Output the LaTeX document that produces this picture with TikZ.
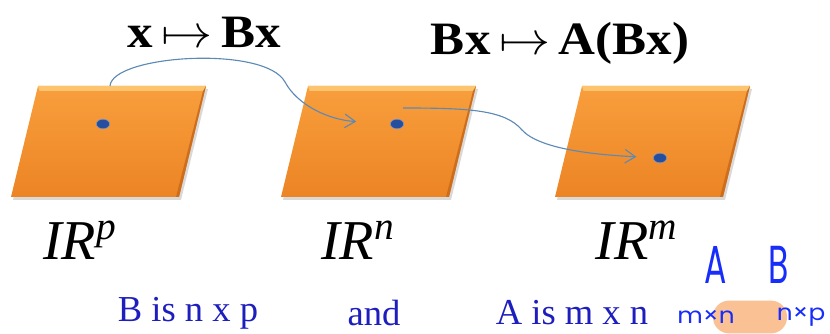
\RequirePackage{fix-cm}
\documentclass[tikz,border=0pt]{standalone}
\usepackage{fontspec}
\setmainfont{Liberation Serif}
\newfontfamily\handfont{Poppins}
\usetikzlibrary{calc,arrows.meta,positioning,shapes.geometric}
\definecolor{planeorange}{RGB}{248,152,52}
\definecolor{planelight}{RGB}{252,196,110}
\definecolor{planedark}{RGB}{236,132,36}
\definecolor{planeedge}{RGB}{205,110,30}
\definecolor{mapblue}{RGB}{92,138,180}
\definecolor{dotblue}{RGB}{38,78,158}
\definecolor{textblue}{RGB}{30,30,190}
\definecolor{inkblue}{RGB}{25,45,250}
\definecolor{inkorange}{RGB}{250,194,148}
\newcommand{\widen}[1]{\scalebox{1.1}[1]{#1}}
\newcommand{\slim}[1]{\scalebox{0.62}[1]{#1}}
\tikzset{
  plane/.style={top color=planeorange!85!planelight, bottom color=planedark},
  planebevel/.style={fill=planelight},
  planeside/.style={fill=planeedge},
  planeshadow/.style={fill=black, opacity=0.15},
  dot/.style={ellipse, fill=dotblue, draw=dotblue!60, line width=0.4pt,
              minimum width=0.33cm, minimum height=0.24cm, inner sep=0pt},
  map/.style={-{Straight Barb[length=2.6mm, width=3.4mm]}, line width=0.8pt, mapblue},
  maplabel/.style={font=\fontsize{33}{36}\selectfont\bfseries, inner sep=0pt},
  spacelabel/.style={font=\fontsize{40}{44}\selectfont\itshape, inner sep=0pt},
  dimtext/.style={font=\fontsize{26}{30}\selectfont, textblue, inner sep=0pt},
  inktext/.style={font=\handfont\fontsize{16}{18}\selectfont, inkblue, inner sep=0pt},
  inkbig/.style={font=\handfont\fontsize{38}{40}\selectfont, inkblue, inner sep=0pt},
  blob/.style={fill=inkorange, rounded corners=0.4cm, minimum width=1.85cm,
               minimum height=0.82cm, inner sep=0pt},
}

\begin{document}
\begin{tikzpicture}[x=0.025cm, y=-0.025cm]
  \useasboundingbox (0,0) rectangle (830,334);
  % the three spaces
  \foreach \nm/\x in {P/38, N/308, M/582} {
    \fill[planeshadow] (\x+2,89) -- ++(168,0) -- ++(-27,111) -- ++(-168,0) -- cycle;
    \shade[plane] (\x,86) -- ++(168,0) -- ++(-27,111) -- ++(-168,0) -- cycle;
    \fill[planebevel] (\x,86) -- ++(168,0) -- ++(-1.5,5) -- ++(-165,0) -- cycle;
    \fill[planeside] (\x+168,86) -- ++(-27,111) -- ++(-3,0) -- ++(27,-106) -- cycle;
    \coordinate (\nm-tl) at (\x,86);
  }
  \node[dot] (dP) at (103,124) {};
  \node[dot] (dN) at (397,124) {};
  \node[dot] (dM) at (660,158) {};
  \coordinate (s1) at (110,86);
  \coordinate (s2) at (403,108);
  \draw[map, shorten >=0.85cm] (s1) .. controls (112,55) and (265,45) .. (285,82)
        .. controls (298,106) and (330,120) .. (dN);
  \draw[map, shorten >=0.42cm] (s2) .. controls (470,108) and (505,110) .. (522,130)
        .. controls (540,150) and (600,155) .. (dM);
  % labels
  \node[maplabel] (mapB) at (204,32) {\widen{x\,$\mapsto$\,Bx}};
  \node[maplabel] (mapA) at (560,43) {\widen{Bx\,$\mapsto$\,A(Bx)}};
  \node[spacelabel] (RP) at (80,240) {IR\textsuperscript{p}};
  \node[spacelabel] (RN) at (358,240) {IR\textsuperscript{n}};
  \node[spacelabel] (RM) at (637,240) {IR\textsuperscript{m}};
  \node[dimtext] (dimB) at (188,313) {B is n x p};
  \node[dimtext] (dimand) at (374,313) {and};
  \node[dimtext] (dimA) at (572,313) {A is m x n};
  % ink notes
  \node[blob] (overlap) at (750,317) {};
  \node[inkbig] (inkA) at (716,265) {\slim{A}};
  \node[inkbig] (inkB) at (779,265) {\slim{B}};
  \node[inktext] (inkmn) at (706,317) {\scalebox{1.1}[1]{m×n}};
  \node[inktext] (inknp) at (801,317) {\scalebox{1.1}[1]{n×p}};
\end{tikzpicture}
\end{document}
